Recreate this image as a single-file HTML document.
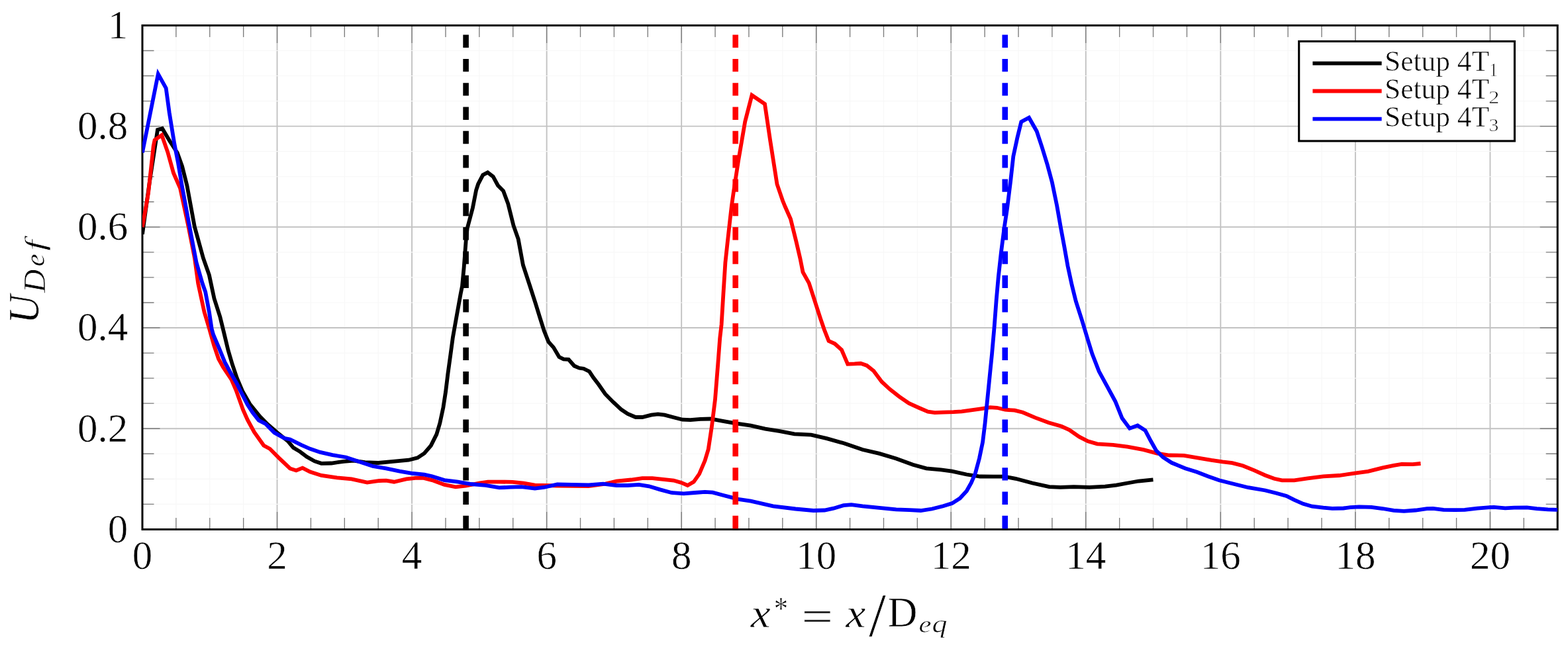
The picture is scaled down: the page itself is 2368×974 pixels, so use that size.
<!DOCTYPE html>
<html lang="en"><head><meta charset="utf-8"><title>U_Def vs x*</title>
<style>html,body{margin:0;padding:0;background:#fff}body{width:2368px;height:974px;overflow:hidden}svg{display:block}text{font-family:"Liberation Serif","DejaVu Serif",serif;fill:#000;stroke:#fff;stroke-width:0.6}</style>
</head><body>
<svg width="2368" height="974" viewBox="0 0 2368 974">
<rect width="2368" height="974" fill="#fff"/>
<defs><clipPath id="c"><rect x="215" y="38.4" width="2137.2" height="761.05"/></clipPath></defs>
<path d="M265.89 38.4V799.45M316.77 38.4V799.45M367.66 38.4V799.45M469.43 38.4V799.45M520.31 38.4V799.45M571.2 38.4V799.45M672.97 38.4V799.45M723.86 38.4V799.45M774.74 38.4V799.45M876.51 38.4V799.45M927.4 38.4V799.45M978.29 38.4V799.45M1080.06 38.4V799.45M1130.94 38.4V799.45M1181.83 38.4V799.45M1283.6 38.4V799.45M1334.49 38.4V799.45M1385.37 38.4V799.45M1487.14 38.4V799.45M1538.03 38.4V799.45M1588.91 38.4V799.45M1690.69 38.4V799.45M1741.57 38.4V799.45M1792.46 38.4V799.45M1894.23 38.4V799.45M1945.11 38.4V799.45M1996 38.4V799.45M2097.77 38.4V799.45M2148.66 38.4V799.45M2199.54 38.4V799.45M2301.31 38.4V799.45" stroke="#f7f7f7" stroke-width="1.15" fill="none"/>
<path d="M418.54 38.4V799.45M622.09 38.4V799.45M825.63 38.4V799.45M1029.17 38.4V799.45M1232.71 38.4V799.45M1436.26 38.4V799.45M1639.8 38.4V799.45M1843.34 38.4V799.45M2046.89 38.4V799.45M2250.43 38.4V799.45" stroke="#c2c2c2" stroke-width="1.9" fill="none"/>
<path d="M215 761.4H2352.2M215 723.35H2352.2M215 685.29H2352.2M215 609.19H2352.2M215 571.13H2352.2M215 533.08H2352.2M215 456.98H2352.2M215 418.93H2352.2M215 380.87H2352.2M215 304.77H2352.2M215 266.71H2352.2M215 228.66H2352.2M215 152.56H2352.2M215 114.5H2352.2M215 76.45H2352.2" stroke="#f7f7f7" stroke-width="1.15" fill="none"/>
<path d="M215 647.24H2352.2M215 495.03H2352.2M215 342.82H2352.2M215 190.61H2352.2" stroke="#c2c2c2" stroke-width="1.9" fill="none"/>
<path d="M265.89 38.4v17.5M265.89 799.45v-17.5M316.77 38.4v17.5M316.77 799.45v-17.5M367.66 38.4v17.5M367.66 799.45v-17.5M418.54 38.4v26.5M418.54 799.45v-26.5M469.43 38.4v17.5M469.43 799.45v-17.5M520.31 38.4v17.5M520.31 799.45v-17.5M571.2 38.4v17.5M571.2 799.45v-17.5M622.09 38.4v26.5M622.09 799.45v-26.5M672.97 38.4v17.5M672.97 799.45v-17.5M723.86 38.4v17.5M723.86 799.45v-17.5M774.74 38.4v17.5M774.74 799.45v-17.5M825.63 38.4v26.5M825.63 799.45v-26.5M876.51 38.4v17.5M876.51 799.45v-17.5M927.4 38.4v17.5M927.4 799.45v-17.5M978.29 38.4v17.5M978.29 799.45v-17.5M1029.17 38.4v26.5M1029.17 799.45v-26.5M1080.06 38.4v17.5M1080.06 799.45v-17.5M1130.94 38.4v17.5M1130.94 799.45v-17.5M1181.83 38.4v17.5M1181.83 799.45v-17.5M1232.71 38.4v26.5M1232.71 799.45v-26.5M1283.6 38.4v17.5M1283.6 799.45v-17.5M1334.49 38.4v17.5M1334.49 799.45v-17.5M1385.37 38.4v17.5M1385.37 799.45v-17.5M1436.26 38.4v26.5M1436.26 799.45v-26.5M1487.14 38.4v17.5M1487.14 799.45v-17.5M1538.03 38.4v17.5M1538.03 799.45v-17.5M1588.91 38.4v17.5M1588.91 799.45v-17.5M1639.8 38.4v26.5M1639.8 799.45v-26.5M1690.69 38.4v17.5M1690.69 799.45v-17.5M1741.57 38.4v17.5M1741.57 799.45v-17.5M1792.46 38.4v17.5M1792.46 799.45v-17.5M1843.34 38.4v26.5M1843.34 799.45v-26.5M1894.23 38.4v17.5M1894.23 799.45v-17.5M1945.11 38.4v17.5M1945.11 799.45v-17.5M1996 38.4v17.5M1996 799.45v-17.5M2046.89 38.4v26.5M2046.89 799.45v-26.5M2097.77 38.4v17.5M2097.77 799.45v-17.5M2148.66 38.4v17.5M2148.66 799.45v-17.5M2199.54 38.4v17.5M2199.54 799.45v-17.5M2250.43 38.4v26.5M2250.43 799.45v-26.5M2301.31 38.4v17.5M2301.31 799.45v-17.5M215 761.4h17.5M2352.2 761.4h-17.5M215 723.35h17.5M2352.2 723.35h-17.5M215 685.29h17.5M2352.2 685.29h-17.5M215 647.24h26.5M2352.2 647.24h-26.5M215 609.19h17.5M2352.2 609.19h-17.5M215 571.13h17.5M2352.2 571.13h-17.5M215 533.08h17.5M2352.2 533.08h-17.5M215 495.03h26.5M2352.2 495.03h-26.5M215 456.98h17.5M2352.2 456.98h-17.5M215 418.93h17.5M2352.2 418.93h-17.5M215 380.87h17.5M2352.2 380.87h-17.5M215 342.82h26.5M2352.2 342.82h-26.5M215 304.77h17.5M2352.2 304.77h-17.5M215 266.71h17.5M2352.2 266.71h-17.5M215 228.66h17.5M2352.2 228.66h-17.5M215 190.61h26.5M2352.2 190.61h-26.5M215 152.56h17.5M2352.2 152.56h-17.5M215 114.5h17.5M2352.2 114.5h-17.5M215 76.45h17.5M2352.2 76.45h-17.5" stroke="#7c7c7c" stroke-width="1.35" fill="none"/>
<rect x="215" y="38.4" width="2137.2" height="761.05" fill="none" stroke="#000" stroke-width="3"/>
<g clip-path="url(#c)" fill="none" stroke-width="5.8" stroke-linejoin="miter" stroke-miterlimit="10">
<polyline stroke="#000" points="215,353.5 226,274 234,222 238,196 245,194 256.8,213.7 267.8,230.8 275.1,251.1 282.4,280 293.8,342 307,390 315.9,415.3 323.5,450.8 332.4,478.7 337.6,500 344.6,529.1 351,550.7 357.8,571 366.2,590.6 377.2,610 392.4,628.9 404.2,640.7 417.7,652.5 434.6,666 443,676.1 453.2,682.1 463.3,689.7 475.1,696.4 485.3,699.8 500.5,699.5 519.1,696.8 534.3,695.6 551.1,698.1 571.4,699 593.4,696.8 617,694.7 630.5,691.4 640.7,684.6 650.8,672.8 659.3,655.9 664.3,639 669.4,615.3 673,592 676.3,565.1 680.5,534.7 683.9,509.4 689,480.7 695.7,443.5 698,432 700.6,404.3 703.7,363.2 705.7,344.7 713.9,313.9 719.1,287.2 722.1,278 729.3,264.2 736.5,260.5 744.7,266.7 751.9,280 760.1,288.3 767.3,307.8 775.5,340.6 782.7,361.1 789.9,400.2 800,431 808.9,458.7 815.7,480.7 821.6,499.3 828.3,516.1 835.9,524.6 844.4,539 851.1,542.3 858.7,542.8 867.2,552.5 874.8,555.8 881.5,556.7 890,560.9 896,570 904,580.5 914,595 926.1,607.2 937.9,618.1 948,624.9 959.9,630 970,630 983.5,626.6 993.6,625.4 1003.8,626.6 1017.3,630.3 1030.8,633.7 1042.6,634.2 1057.8,632.8 1073,632.5 1091.6,635.9 1109.8,639.1 1133.8,642.7 1155.7,647.7 1177.7,651.1 1199.7,655.3 1225,656.7 1248.6,662.1 1275.7,669.7 1302.7,679 1328,684.9 1353.4,692.5 1378.7,701.8 1399,707.4 1421,709.4 1437.8,711.6 1459.8,716.5 1480.1,719.5 1500,719.6 1516.9,719.7 1533.8,722.8 1559.1,729.5 1584.5,735.1 1601.4,735.9 1621.6,735.1 1645.3,735.9 1668.9,734.6 1685.8,732.6 1702.7,729.5 1719.6,726.5 1741.5,724.3"/>
<polyline stroke="#f00" points="215,343 224,291.6 231.7,220.7 233.6,211.4 244.3,204.1 253.2,229.5 262,261.2 272,284 284.5,342 294,390 299.2,428 308.5,471 316.1,496.4 323.1,521.5 330,541.8 337,554.5 349.7,573.5 356.5,589.3 367,618.7 373.8,633.9 383.9,652.5 398.3,672.8 407.6,677.8 421.1,691.4 438,707.4 447.3,710.4 456.9,706.6 468.4,712.5 485.3,717.9 508.9,721.4 530.9,723.4 554.5,728.5 573.1,726 583.2,725.6 595.1,727.7 613.6,723.4 627.2,721.8 639,721.8 652.5,725.1 671.1,731.9 688,735.3 703.2,733.6 725.1,729.4 736.9,727.6 753.8,727.6 774,727.9 790.9,729.6 807.8,732.6 841.6,733.5 888.9,734 914.3,730.6 931.1,726.7 953.1,724.5 970,722.2 985.2,722.2 1003.8,724.2 1017.3,725.5 1029.1,728.9 1038.4,733 1047.7,727.6 1056.1,715.7 1064.6,695.5 1069.7,678.6 1074.9,644.3 1080,603.2 1084.1,551.9 1087.2,510.8 1089.6,490 1092.4,443.7 1095.4,396.5 1098.5,367.8 1102.6,330.8 1105,310 1107.8,290.4 1115,243.2 1125.2,183.7 1135.5,143.8 1155,157 1163.2,212.4 1173.5,278.1 1182,303 1185.8,312.3 1194,330.8 1202.2,363.7 1208.4,390.3 1212.5,410.9 1221.7,427.3 1231,456.1 1239.2,481.5 1244.8,497.8 1251.5,514.9 1260.7,519 1271,528.3 1280.2,549.8 1290.5,549.4 1299.8,548.8 1309,551.9 1319.3,560.1 1331.6,576.5 1343.9,587.8 1358.3,599.1 1372.6,609 1387,615.5 1401.4,621.7 1411.7,623.1 1424,622.7 1440,622.2 1452.3,621.4 1466.7,619.3 1481.1,617.3 1495.4,615.2 1505.7,615.8 1518,618.7 1532.4,619.7 1544.7,622.8 1563.2,630.6 1583.7,638.2 1603,643.8 1614.7,649.1 1630,659.7 1643,666.3 1657,670.3 1681,671.8 1702.8,674.7 1727,679.2 1747.3,684.6 1766,687.5 1788,687.8 1808.5,691.3 1829.4,694.9 1846.3,697.4 1861,699.1 1876.9,703.3 1893.8,710.1 1910.7,717.7 1924.2,722.8 1936,725.3 1954.6,725.3 1974.9,722.4 1998.5,719.4 2022.2,718 2045.8,714.7 2066.1,711.8 2088,706.4 2104.9,702.8 2116.8,700.8 2133.6,701.1 2145.5,700"/>
<polyline stroke="#00f" points="215,230.5 238.8,111.8 250.7,133.2 255.7,170 263.3,216.9 269,246 274.7,280 286.2,342 296.5,396 305.7,428 310.2,440.7 315.9,471.1 319.7,496.4 322,505 330.7,525.3 339.5,546.9 348.4,563.3 357.3,578.5 364.5,593 373.8,611 381.4,622.9 390.7,634.8 400.8,639.8 414.3,653.3 429.5,661.8 438,663.5 454.9,671.9 468.4,677.8 483.6,682.9 502.2,687.1 522.4,690.5 542.7,697.3 563,704 583.2,707.4 603.5,711.6 623.8,715 640.7,716.7 652.5,719.2 671.1,725.1 691.4,727.7 711.6,731 733.5,732.8 753.8,736.4 770.7,735.7 787.6,735.2 807.8,737.7 821.4,736 841.6,731.5 863.6,731.8 888.9,732.3 910.9,730.6 931.1,733 948,733 964.9,731.8 980.1,734.3 997,739.4 1013.9,744 1032.5,745.3 1049.4,744 1064.6,742.8 1076.4,743.6 1091.6,747.8 1108.5,752.1 1116.9,754.2 1133.8,756.7 1167.6,764.3 1201.4,768.5 1228.4,771 1245.3,770.5 1258.8,767.7 1274,763.1 1285.8,762.1 1302.7,764.3 1328,766.8 1353.4,769.4 1373.6,770.2 1390.5,771 1407.4,768.5 1424.3,764.3 1437.8,760.1 1449.7,752.5 1459.8,741.5 1466.7,729.2 1472.9,714.8 1479,692.2 1484.1,667.6 1487.6,638.8 1491.3,601.9 1495.4,560.8 1498,535 1501.6,494 1504.7,452.9 1507.8,418 1511.9,381.1 1516.5,345 1521.1,314.3 1526.2,273.2 1530.3,236.2 1536.5,207.5 1542.3,183.9 1554,177.7 1565.7,198.3 1573.5,221.9 1581.7,248.6 1588.9,275.3 1596.1,310.2 1602.2,345 1607.4,372.9 1612.5,401.6 1618.7,430.3 1624.8,455 1634,483.7 1643.3,514.5 1649.5,534.6 1659.7,560.8 1672,583.4 1684.3,606 1694.6,631.6 1706,646.9 1718,642.5 1729.6,650.1 1738,666 1746.3,680.6 1756.5,690.5 1769.4,698.8 1789.8,707.3 1807.5,712.7 1824.2,719.2 1841.2,725.3 1861,730.3 1885.2,736.2 1910.7,740.5 1927.6,744.7 1942.8,749 1954.6,754.9 1968.1,760.8 1981.6,764.7 1998.5,766.7 2012,767.9 2028.9,767.5 2039.1,766.2 2052.6,765.3 2071.1,765.8 2088,768 2104.9,770.9 2120.3,771.9 2138,770.5 2155,768.1 2164.1,767.9 2180,769.8 2197.8,770.1 2212,769.8 2231,767.7 2250,766.2 2256.2,765.8 2273.2,767.3 2286.7,766.7 2306,766.4 2320.7,768.2 2337.7,769.3 2352.4,769.9"/>
<line x1="703.6" y1="798.2" x2="703.6" y2="18.4" stroke="#000" stroke-width="8.6" stroke-dasharray="19.4 16.91"/>
<line x1="1110.69" y1="798.2" x2="1110.69" y2="18.4" stroke="#f00" stroke-width="8.6" stroke-dasharray="19.4 16.91"/>
<line x1="1517.77" y1="798.2" x2="1517.77" y2="18.4" stroke="#00f" stroke-width="8.6" stroke-dasharray="19.4 16.91"/>
</g>
<rect x="1961.7" y="62.45" width="325.7" height="150.5" fill="#fff" stroke="#000" stroke-width="3.1"/>
<g class="lg">
<line x1="1982.4" y1="95.7" x2="2086.6" y2="95.7" stroke="#000" stroke-width="5.8"/>
<text transform="translate(2091.08 107.00) scale(0.9911 1)" font-size="43.79" stroke-width="0.8">Setup 4T</text>
<text transform="translate(2249.14 114.80) scale(0.8668 1)" font-size="29.01" stroke-width="0">1</text>
<line x1="1982.4" y1="137.5" x2="2086.6" y2="137.5" stroke="#f00" stroke-width="5.8"/>
<text transform="translate(2091.08 148.90) scale(0.9911 1)" font-size="43.79" stroke-width="0.8">Setup 4T</text>
<text transform="translate(2248.03 156.00) scale(1.1621 1)" font-size="28.18" stroke-width="0">2</text>
<line x1="1982.4" y1="179.6" x2="2086.6" y2="179.6" stroke="#00f" stroke-width="5.8"/>
<text transform="translate(2091.08 191.10) scale(0.9911 1)" font-size="43.79" stroke-width="0.8">Setup 4T</text>
<text transform="translate(2248.52 198.02) scale(1.0631 1)" font-size="27.76" stroke-width="0">3</text>
</g>
<text x="215" y="858.9" font-size="61" text-anchor="middle">0</text>
<text x="418.54" y="858.9" font-size="61" text-anchor="middle">2</text>
<text x="622.09" y="858.9" font-size="61" text-anchor="middle">4</text>
<text x="825.63" y="858.9" font-size="61" text-anchor="middle">6</text>
<text x="1029.17" y="858.9" font-size="61" text-anchor="middle">8</text>
<text x="1232.71" y="858.9" font-size="61" text-anchor="middle">10</text>
<text x="1436.26" y="858.9" font-size="61" text-anchor="middle">12</text>
<text x="1639.8" y="858.9" font-size="61" text-anchor="middle">14</text>
<text x="1843.34" y="858.9" font-size="61" text-anchor="middle">16</text>
<text x="2046.89" y="858.9" font-size="61" text-anchor="middle">18</text>
<text x="2250.43" y="858.9" font-size="61" text-anchor="middle">20</text>
<text x="193.3" y="818.75" font-size="61" text-anchor="end">0</text>
<text x="193.3" y="666.54" font-size="61" text-anchor="end">0.2</text>
<text x="193.3" y="514.33" font-size="61" text-anchor="end">0.4</text>
<text x="193.3" y="362.12" font-size="61" text-anchor="end">0.6</text>
<text x="193.3" y="209.91" font-size="61" text-anchor="end">0.8</text>
<text x="193.3" y="57.7" font-size="61" text-anchor="end">1</text>
<text transform="translate(1133.87 947.10) scale(1.1034 1)" font-size="61.10" style="font-style:italic">x</text>
<text transform="translate(1168.76 935.06) scale(0.8916 1)" font-size="47.95" stroke-width="0.2">*</text>
<text transform="translate(1210.57 952.00) scale(1.3124 1)" font-size="64.40">=</text>
<text transform="translate(1277.47 947.10) scale(1.0997 1)" font-size="61.10" style="font-style:italic">x</text>
<text transform="translate(1312.20 960.28) scale(0.9948 1)" font-size="92.48" stroke-width="1.9">/</text>
<text transform="translate(1340.44 945.70) scale(0.9905 1)" font-size="62.75">D</text>
<text transform="translate(1387.61 955.14) scale(1.1883 1)" font-size="36.25" style="font-style:italic" stroke-width="0.2">e</text>
<text transform="translate(1407.59 955.45) scale(1.2438 1)" font-size="36.91" style="font-style:italic" stroke-width="0.2">q</text>
<g transform="rotate(-90)">
<text transform="translate(-488.64 57.95) scale(0.9234 1)" font-size="65.45" style="font-style:italic">U</text>
<text transform="translate(-441.91 67.50) scale(1.0512 1)" font-size="46.56" style="font-style:italic" stroke-width="0.3">D</text>
<text transform="translate(-402.50 67.08) scale(1.0400 1)" font-size="41.67" style="font-style:italic" stroke-width="0.2">e</text>
<text transform="translate(-378.69 66.60) scale(1.3839 1)" font-size="42.40" style="font-style:italic" stroke-width="0.2">f</text>
</g>
</svg></body></html>
